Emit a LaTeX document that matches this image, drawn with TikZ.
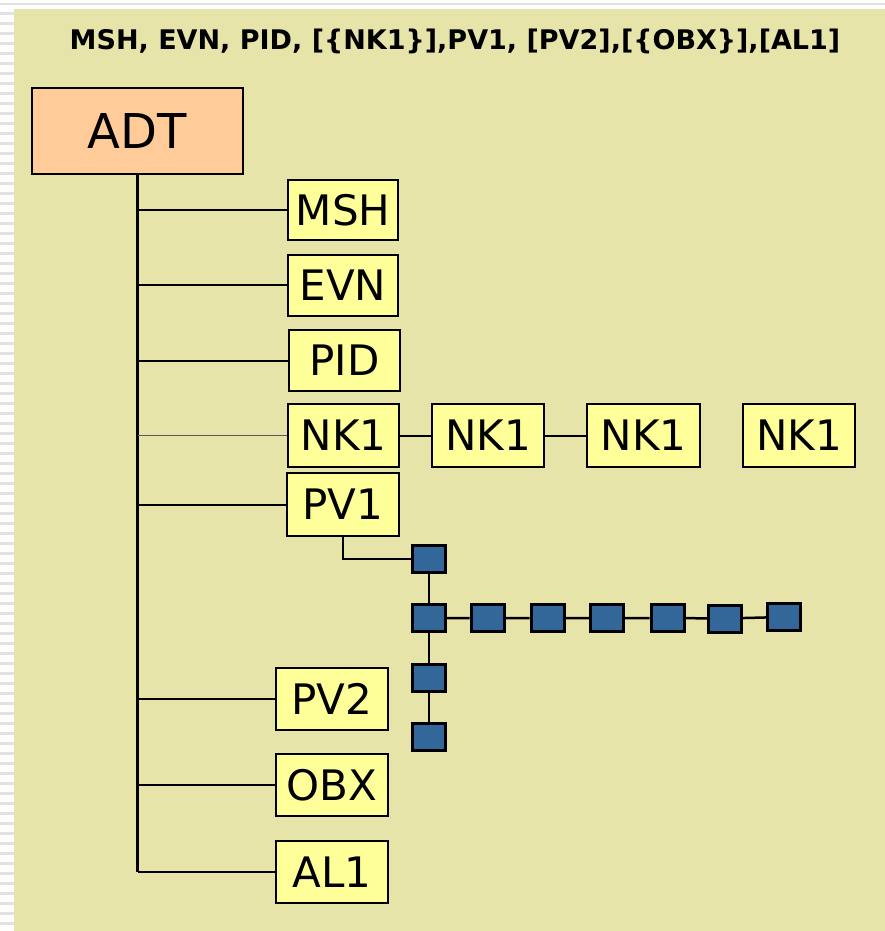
\documentclass[tikz,border=0pt]{standalone}
\usepackage{fontspec}
\setmainfont{DejaVu Sans}
\definecolor{slidebg}{HTML}{E6E4A9}
\definecolor{segyellow}{HTML}{FFFF99}
\definecolor{msgorange}{HTML}{FFCC99}
\definecolor{fieldblue}{HTML}{336699}
\definecolor{stripegray}{HTML}{E2E2E2}
\begin{document}
\begin{tikzpicture}[x=1pt,y=-1pt,
  msgbox/.style={draw=black,line width=2pt,fill=msgorange,inner sep=0pt,
    minimum width=211pt,minimum height=86pt,font=\fontsize{48}{50}\selectfont},
  segbox/.style={draw=black,line width=2pt,fill=segyellow,inner sep=0pt,
    minimum width=111pt,minimum height=61pt,font=\fontsize{42}{44}\selectfont},
  field/.style={draw=black,line width=3pt,fill=fieldblue,inner sep=0pt,
    minimum width=33pt,minimum height=27pt},
  link/.style={draw=black,line width=2pt}]
% background
\fill[white] (0,0) rectangle (885,931);
\fill[stripegray] (0,3) rectangle (885,5);
\foreach \y in {12,22,...,931} \fill[stripegray] (0,\y) rectangle (14,\y+3);
\fill[slidebg] (14,9) rectangle (885,931);
\useasboundingbox (0,0) rectangle (885,931);
% title
\node[font=\bfseries\fontsize{27}{29}\selectfont] (title) at (455,41) {MSH, EVN, PID, [\{NK1\}],PV1, [PV2],[\{OBX\}],[AL1]};
% message and segments
\node[msgbox] (adt) at (137.5,131) {ADT};
\node[segbox,minimum width=110pt,minimum height=60pt] (msh) at (343,210) {MSH};
\node[segbox,minimum width=110pt] (evn) at (343,285) {EVN};
\node[segbox] (pid) at (344.5,360.5) {PID};
\node[segbox,minimum height=63pt] (nka) at (343.5,435.5) {NK1};
\node[segbox,minimum height=63pt,minimum width=112pt] (nkb) at (488,435.5) {NK1};
\node[segbox,minimum height=63pt,minimum width=113pt] (nkc) at (643.5,435.5) {NK1};
\node[segbox,minimum height=63pt,minimum width=112pt] (nkd) at (799,435.5) {NK1};
\node[segbox,minimum height=63pt,minimum width=112pt] (pva) at (343,504.5) {PV1};
\node[segbox,minimum height=62pt,minimum width=112pt] (pvb) at (332,699) {PV2};
\node[segbox,minimum height=62pt,minimum width=112pt] (obx) at (332,785) {OBX};
\node[segbox,minimum height=62pt,minimum width=112pt] (alo) at (332,872) {AL1};
% fields of PV1
\node[field] (f0) at (429,559) {};
\node[field] (f1) at (429,618) {};
\node[field] (f2) at (429,677.5) {};
\node[field] (f3) at (429,736.5) {};
\node[field] (r1) at (487.5,618) {};
\node[field] (r2) at (547.5,618) {};
\node[field] (r3) at (607,618) {};
\node[field] (r4) at (667.5,618) {};
\node[field] (r5) at (725,618.5) {};
\node[field] (r6) at (784,617) {};
% tree
\coordinate (trunkend) at (adt.south |- alo);
\draw[link,line width=2.8pt] (adt.south) -- (trunkend);
\draw[link] (adt.south |- msh) -- (msh.west);
\draw[link] (adt.south |- evn) -- (evn.west);
\draw[link] (adt.south |- pid) -- (pid.west);
\draw[line width=1.8pt,draw=black!65] (adt.south |- nka) -- (nka.west);
\draw[link] (adt.south |- pva) -- (pva.west);
\draw[link] (adt.south |- pvb) -- (pvb.west);
\draw[link] (adt.south |- obx) -- (obx.west);
\draw[link] (trunkend) -- (alo.west);
\draw[link] (nka) -- (nkb);
\draw[link] (nkb) -- (nkc);
\draw[link] (pva.south) |- (f0.west);
\draw[link,line width=2.5pt] (f0) -- (f1) -- (f2) -- (f3);
\draw[link,line width=2.5pt] (f1) -- (r1) -- (r2) -- (r3) -- (r4) -- (r5) -- (r6);
\end{tikzpicture}
\end{document}
